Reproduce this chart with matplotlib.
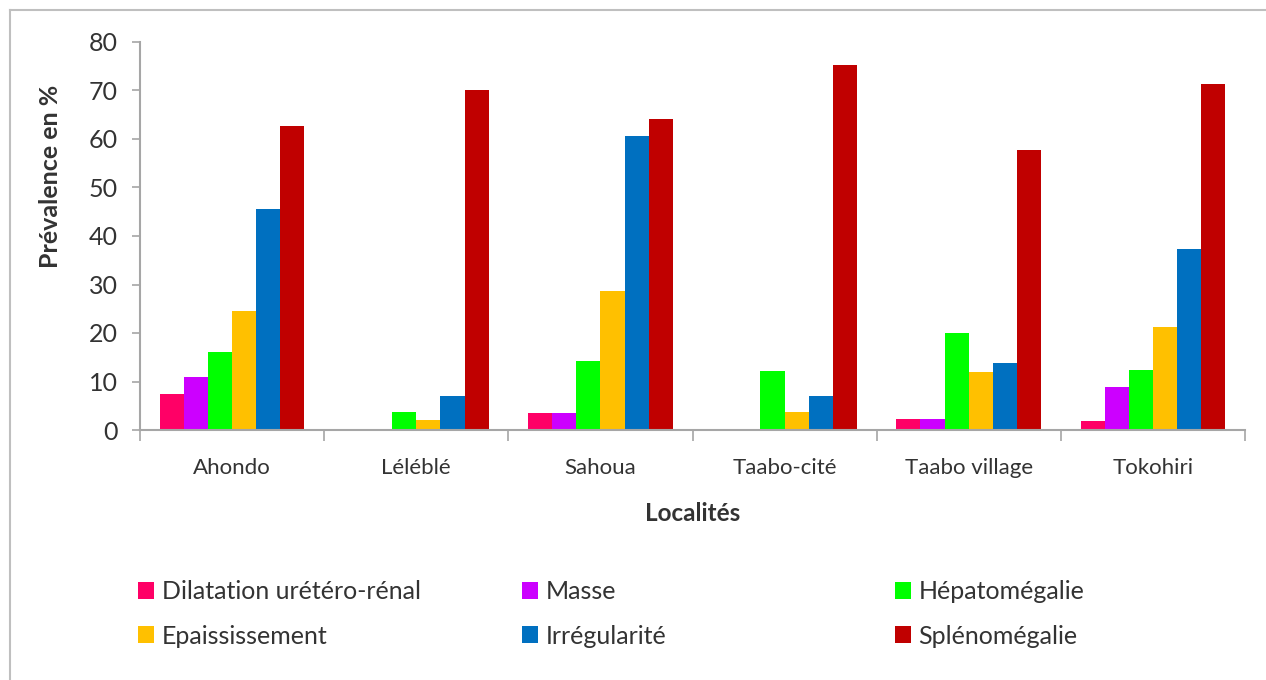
import matplotlib
matplotlib.use("Agg")
import matplotlib.pyplot as plt
import numpy as np
from matplotlib.lines import Line2D
from matplotlib.patches import Patch

categories = ["Ahondo", "Léléblé", "Sahoua", "Taabo-cité", "Taabo village", "Tokohiri"]
series_names = ["Dilatation urétéro-rénal", "Masse", "Hépatomégalie",
                "Epaississement", "Irrégularité", "Splénomégalie"]
dilatation = [7.5, 0, 3.6, 0, 2.2, 1.8]
masse = [10.9, 0, 3.6, 0, 2.2, 8.9]
hepatomegalie = [16.0, 3.8, 14.3, 12.2, 20.1, 12.4]
epaississement = [24.5, 2.1, 28.7, 3.7, 11.9, 21.3]
irregularite = [45.6, 7.1, 60.6, 7.1, 13.9, 37.4]
splenomegalie = [62.7, 70.1, 64.1, 75.2, 57.7, 71.3]
yticks = [0, 10, 20, 30, 40, 50, 60, 70, 80]

values = [dilatation, masse, hepatomegalie, epaississement, irregularite, splenomegalie]
colors = ["#FF0066", "#CC00FF", "#00FF00", "#FFC000", "#0070C0", "#C00000"]

plt.rcParams['font.family'] = ['Lato', 'DejaVu Sans']
txt = "#333333"
grey = "#A6A6A6"

W, H = 1266, 680
fig = plt.figure(figsize=(W/100, H/100), dpi=100)
ax = fig.add_axes([140/W, 1-430/H, 1105/W, 388/H])

x = np.arange(len(categories))
w = 0.131
for i, (vals, c, name) in enumerate(zip(values, colors, series_names)):
    ax.bar(x + (i - 2.5) * w, vals, width=w, color=c, label=name, linewidth=0)

ax.set_xlim(-0.5, len(categories) - 0.5)
ax.set_ylim(0, 80)
ax.set_yticks(yticks)
ax.set_yticklabels([str(v) for v in yticks], fontsize=18, color=txt)
ax.set_xticks(x)
ax.set_xticklabels(categories, fontsize=16, color=txt)
ax.set_xticks(np.arange(-0.5, len(categories)), minor=True)
ax.tick_params(axis='x', which='major', length=0, pad=20)
ax.tick_params(axis='x', which='minor', length=8, color=grey, width=1.2)
ax.tick_params(axis='y', length=6, color=grey, width=1.2, pad=10)

for s in ['top', 'right']:
    ax.spines[s].set_visible(False)
for s in ['left', 'bottom']:
    ax.spines[s].set_color(grey)
    ax.spines[s].set_linewidth(1.5)

ax.set_ylabel("Prévalence en %", fontsize=18, fontweight='bold', color=txt)
ax.yaxis.set_label_coords((62-140)/1105, (430-176)/388)
ax.set_xlabel("Localités", fontsize=17.5, fontweight='bold', color=txt)
ax.xaxis.set_label_coords(0.5, -(502-430)/388)

# legend in three columns placed individually
col_x = [128/W, 512/W, 885/W]
for k in range(3):
    idxs = [k, k + 3]
    handles = [Patch(facecolor=colors[j], edgecolor='none') for j in idxs]
    labels = [series_names[j] for j in idxs]
    fig.legend(handles, labels, loc='center left', bbox_to_anchor=(col_x[k], 1-614/H),
               frameon=False, fontsize=18, handlelength=0.64, handleheight=0.68,
               handletextpad=0.3, labelspacing=0.85, labelcolor=txt, borderaxespad=0)

# outer frame
fig.add_artist(Line2D([10/W, 1], [1-10/H, 1-10/H], color="#BFBFBF", lw=1.5, transform=fig.transFigure))
fig.add_artist(Line2D([10/W, 10/W], [0, 1-10/H], color="#BFBFBF", lw=1.5, transform=fig.transFigure))

fig.savefig("out.png", dpi=100)
